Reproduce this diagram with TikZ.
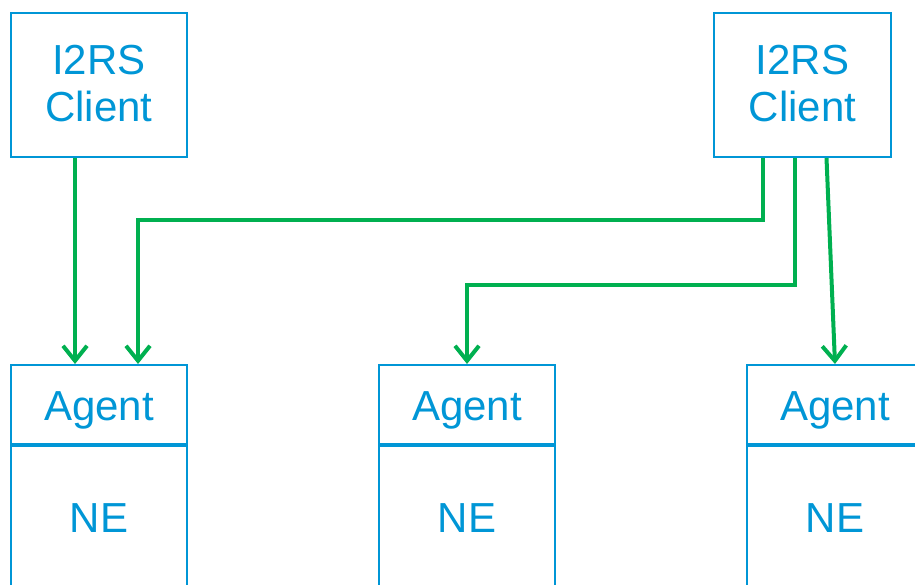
\documentclass[tikz,border=0pt]{standalone}
\usepackage{fontspec}
\setmainfont{Liberation Sans}
\usetikzlibrary{arrows.meta}
\definecolor{ibm}{RGB}{0,150,214}
\definecolor{grn}{RGB}{0,176,80}
\tikzset{
  box/.style={draw=ibm, line width=2pt, inner sep=0pt},
  lbl/.style={text=ibm, inner sep=0pt, anchor=base, font=\fontsize{42}{47}\selectfont},
  conn/.style={draw=grn, line width=4pt, -{Straight Barb[length=15pt,width=24pt,line width=4pt]}},
}
\begin{document}
\begin{tikzpicture}[x=1pt,y=-1pt]
\useasboundingbox (0,0) rectangle (915,585);
\clip (0,0) rectangle (915,585);
% clients
\node[box, minimum width=176pt, minimum height=144pt] (c1) at (99,85) {};
\node[lbl] (c1a) at (99,75) {I2RS};
\node[lbl] (c1b) at (99,122) {Client};
\node[box, minimum width=177pt, minimum height=144pt] (c2) at (802.5,85) {};
\node[lbl] (c2a) at (802.5,75) {I2RS};
\node[lbl] (c2b) at (802.5,122) {Client};
% agents
\node[box, minimum width=176pt, minimum height=79pt] (a1) at (99,404.5) {};
\node[box, minimum width=176pt, minimum height=170pt, anchor=north] (n1) at (a1.south) {};
\node[lbl] (g1) at (99,420) {Agent};
\node[lbl] (t1) at (99,532) {NE};
\node[box, minimum width=176pt, minimum height=79pt] (a2) at (467,404.5) {};
\node[box, minimum width=176pt, minimum height=170pt, anchor=north] (n2) at (a2.south) {};
\node[lbl] (g2) at (467,420) {Agent};
\node[lbl] (t2) at (467,532) {NE};
\node[box, minimum width=176pt, minimum height=79pt] (a3) at (835,404.5) {};
\node[box, minimum width=176pt, minimum height=170pt, anchor=north] (n3) at (a3.south) {};
\node[lbl] (g3) at (835,420) {Agent};
\node[lbl] (t3) at (835,532) {NE};
% connectors
\coordinate (k1) at (763,220);
\coordinate (k2) at (795,285);
\draw[conn] ([xshift=-24pt]c1.south) -- ([xshift=-24pt]a1.north);
\draw[conn] ([xshift=-39.5pt]c2.south) -- (k1) -| ([xshift=39pt]a1.north);
\draw[conn] ([xshift=-7.5pt]c2.south) -- (k2) -| (a2.north);
\draw[conn] ([xshift=24pt]c2.south) -- (a3.north);
\end{tikzpicture}
\end{document}
